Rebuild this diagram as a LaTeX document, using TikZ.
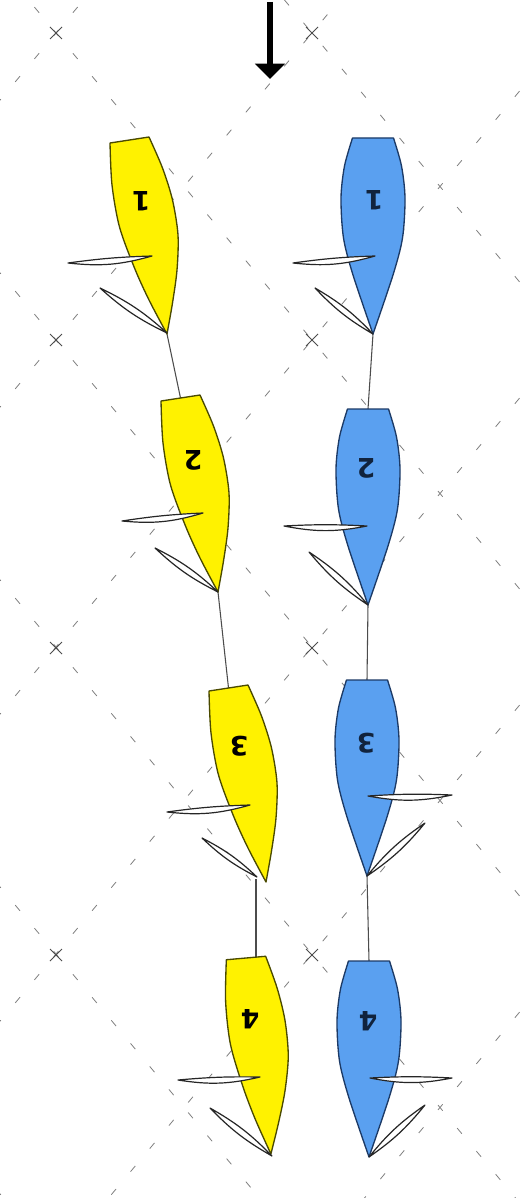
\documentclass[tikz,border=0pt]{standalone}
\usepackage{fontspec}
\usetikzlibrary{arrows.meta}
\newfontfamily\numfont{DejaVu Sans}
\definecolor{bluefill}{HTML}{5AA0F0}
\definecolor{bluedraw}{HTML}{1C3A66}
\definecolor{yellowdraw}{HTML}{4A4A00}
\tikzset{
  gridline/.style={draw=black!50, line width=0.6pt, dash pattern=on 5.5pt off 17pt},
  gridmark/.style={draw=black!70, line width=0.65pt},
  yhullstyle/.style={fill=yellow, draw=yellowdraw, line width=1pt, line join=round},
  bhullstyle/.style={fill=bluefill, draw=bluedraw, line width=1pt, line join=round},
  sailstyle/.style={fill=white, draw=black!85, line width=0.9pt, line join=round},
  towline/.style={draw=black!70, line width=0.8pt},
  windarrow/.style={draw=black, line width=4.5pt, -{Triangle[width=22pt,length=11.5pt]}},
  num/.style={font=\numfont\bfseries\fontsize{20}{20}\selectfont, rotate=180, inner sep=0pt},
}
\newcommand\yhull{\filldraw[yhullstyle] (-19.5,3) -- (19.5,-3)
  -- plot[smooth] coordinates {(19.5,-3) (33,28) (43,60) (48.5,95) (47.5,130) (43,163) (37.5,194)}
  -- plot[smooth] coordinates {(37.5,194) (19.5,160) (5,128) (-10,87) (-17.5,45) (-19.5,3)} -- cycle;}
\newcommand\bhull{\filldraw[bhullstyle] (-20.5,0) -- (20.5,0)
  -- plot[smooth] coordinates {(20.5,0) (28.5,28) (32,60) (29.5,100) (20,137) (0,196)}
  -- plot[smooth] coordinates {(0,196) (-20,137) (-29.5,100) (-32,60) (-28.5,28) (-20.5,0)} -- cycle;}
\begin{document}
\begin{tikzpicture}[x=0.75pt,y=-0.75pt]
\useasboundingbox (0,0) rectangle (527,1198);
\fill[white] (0,0) rectangle (527,1198);
% dashed diagonal grid
\begin{scope}
  \clip (0,0) rectangle (527,1198);
  \foreach \k in {-3,...,6}{
    \pgfmathsetmacro\ya{33+307*\k-1.19922*156}
    \pgfmathsetmacro\yb{33+307*\k+1.19922*594}
    \pgfmathsetmacro\yc{33+307*\k+1.19922*156}
    \pgfmathsetmacro\yd{33+307*\k-1.19922*594}
    \draw[gridline] (-100,\ya) -- (650,\yb);
    \draw[gridline] (-100,\yc) -- (650,\yd);
  }
  \foreach \cx in {56,312}{
    \foreach \cy in {33,340,648,955}{
      \draw[gridmark] (\cx-6,\cy-6) -- (\cx+6,\cy+6) (\cx-6,\cy+6) -- (\cx+6,\cy-6);
    }
  }
\end{scope}
% wind arrow
\coordinate (windfrom) at (270,2);
\coordinate (windto) at (270,79);
\draw[windarrow] (windfrom) -- (windto);
% boat reference points
\begin{scope}[shift={(129.5,140)}]\coordinate (y1s) at (0,0);\coordinate (y1b) at (37.5,194);\end{scope}
\begin{scope}[shift={(180.5,398)}]\coordinate (y2s) at (0,0);\coordinate (y2b) at (37.5,194);\end{scope}
\begin{scope}[shift={(228.5,688)}]\coordinate (y3s) at (0,0);\coordinate (y3b) at (37.5,194);\end{scope}
\coordinate (y3tow) at (256,879);
\coordinate (y4tow) at (256,957);
\begin{scope}[shift={(373,138)}]\coordinate (b1s) at (0,0);\coordinate (b1b) at (0,196);\end{scope}
\begin{scope}[shift={(368,409)}]\coordinate (b2s) at (0,0);\coordinate (b2b) at (0,196);\end{scope}
\begin{scope}[shift={(367,680)}]\coordinate (b3s) at (0,0);\coordinate (b3b) at (0,196);\end{scope}
\begin{scope}[shift={(369,961)}]\coordinate (b4s) at (0,0);\coordinate (b4b) at (0,196);\end{scope}
% tow lines
\draw[towline] (y1b) -- (y2s);
\draw[towline] (y2b) -- (y3s);
\draw[towline] (y3tow) -- (y4tow);
\draw[towline] (b1b) -- (b2s);
\draw[towline] (b2b) -- (b3s);
\draw[towline] (b3b) -- (b4s);
% hulls
\begin{scope}[shift={(129.5,140)}]\yhull\end{scope}
\begin{scope}[shift={(180.5,398)}]\yhull\end{scope}
\begin{scope}[shift={(228.5,688)}]\yhull\end{scope}
\begin{scope}[shift={(246,958)},rotate=-3.7]\yhull\end{scope}
\begin{scope}[shift={(373,138)}]\bhull\end{scope}
\begin{scope}[shift={(368,409)}]\bhull\end{scope}
\begin{scope}[shift={(367,680)}]\bhull\end{scope}
\begin{scope}[shift={(369,961)}]\bhull\end{scope}
% numbers
\node[num, text=black] (y1n) at (141,201) {1};
\node[num, text=black] (y2n) at (193,460) {2};
\node[num, text=black] (y3n) at (239,746) {3};
\node[num, text=black] (y4n) at (250,1019) {4};
\node[num, text=bluedraw!60!black] (b1n) at (374,200) {1};
\node[num, text=bluedraw!60!black] (b2n) at (366,468) {2};
\node[num, text=bluedraw!60!black] (b3n) at (366,743) {3};
\node[num, text=bluedraw!60!black] (b4n) at (368,1021) {4};
% sail points
\coordinate (y1mast) at (152,256); \coordinate (y1boom) at (68,263);
\coordinate (y1tack) at (167,333); \coordinate (y1clew) at (100,288);
\coordinate (y2mast) at (203,513); \coordinate (y2boom) at (122,521);
\coordinate (y2tack) at (218,592); \coordinate (y2clew) at (155,548);
\coordinate (y3mast) at (250,805); \coordinate (y3boom) at (167,812);
\coordinate (y3tack) at (257,877); \coordinate (y3clew) at (202,838);
\coordinate (y4mast) at (260,1077); \coordinate (y4boom) at (178,1080);
\coordinate (y4tack) at (272,1156); \coordinate (y4clew) at (210,1108);
\coordinate (b1mast) at (375,256); \coordinate (b1boom) at (293,263);
\coordinate (b1tack) at (373,334); \coordinate (b1clew) at (315,288);
\coordinate (b2mast) at (367,526); \coordinate (b2boom) at (284,526);
\coordinate (b2tack) at (368,605); \coordinate (b2clew) at (309,552);
\coordinate (b3mast) at (368,796); \coordinate (b3boom) at (452,795);
\coordinate (b3tack) at (367,876); \coordinate (b3clew) at (425,823);
\coordinate (b4mast) at (370,1078); \coordinate (b4boom) at (452,1078);
\coordinate (b4tack) at (369,1157); \coordinate (b4clew) at (425,1105);
% main sails
\filldraw[sailstyle] (y1mast) to[bend left=11] (y1boom) to[bend left=3] (y1mast) -- cycle;
\filldraw[sailstyle] (y2mast) to[bend left=11] (y2boom) to[bend left=3] (y2mast) -- cycle;
\filldraw[sailstyle] (y3mast) to[bend left=11] (y3boom) to[bend left=3] (y3mast) -- cycle;
\filldraw[sailstyle] (y4mast) to[bend left=11] (y4boom) to[bend left=3] (y4mast) -- cycle;
\filldraw[sailstyle] (b1mast) to[bend left=11] (b1boom) to[bend left=3] (b1mast) -- cycle;
\filldraw[sailstyle] (b2mast) to[bend left=11] (b2boom) to[bend left=3] (b2mast) -- cycle;
\filldraw[sailstyle] (b3mast) to[bend right=11] (b3boom) to[bend right=3] (b3mast) -- cycle;
\filldraw[sailstyle] (b4mast) to[bend right=11] (b4boom) to[bend right=3] (b4mast) -- cycle;
% jibs
\filldraw[sailstyle] (y1tack) to[bend left=8] (y1clew) to[bend left=8] (y1tack) -- cycle;
\filldraw[sailstyle] (y2tack) to[bend left=8] (y2clew) to[bend left=8] (y2tack) -- cycle;
\filldraw[sailstyle] (y3tack) to[bend left=8] (y3clew) to[bend left=8] (y3tack) -- cycle;
\filldraw[sailstyle] (y4tack) to[bend left=8] (y4clew) to[bend left=8] (y4tack) -- cycle;
\filldraw[sailstyle] (b1tack) to[bend left=8] (b1clew) to[bend left=8] (b1tack) -- cycle;
\filldraw[sailstyle] (b2tack) to[bend left=8] (b2clew) to[bend left=8] (b2tack) -- cycle;
\filldraw[sailstyle] (b3tack) to[bend left=8] (b3clew) to[bend left=8] (b3tack) -- cycle;
\filldraw[sailstyle] (b4tack) to[bend left=8] (b4clew) to[bend left=8] (b4tack) -- cycle;
\end{tikzpicture}
\end{document}
